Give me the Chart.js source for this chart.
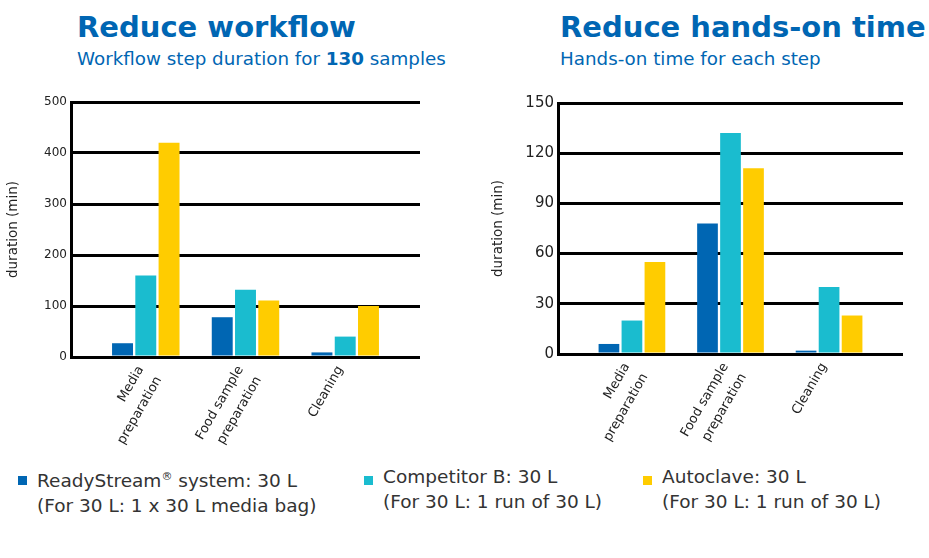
<!DOCTYPE html>
<html>
<head>
<meta charset="utf-8">
<script src="https://cdn.jsdelivr.net/npm/chart.js@4"></script>
<style>
  body { margin: 0; width: 929px; height: 558px; background: #fff; position: relative; overflow: hidden; font-family: "DejaVu Sans", Verdana, sans-serif; }
  .title { position: absolute; color: #0066b3; font-weight: bold; font-size: 29px; white-space: nowrap; }
  .sub { position: absolute; color: #0066b3; font-size: 18.3px; white-space: nowrap; }
  .box { position: absolute; }
  .leg { position: absolute; font-size: 18.5px; color: #333; line-height: 25px; white-space: nowrap; }
  .leg i { position: absolute; left: -19px; width: 9px; height: 9px; }
</style>
</head>
<body>
<div class="title" style="left:77px; top:10px;">Reduce workflow</div>
<div class="sub" style="left:77px; top:48px;">Workflow step duration for <b>130</b> samples</div>
<div class="title" style="left:560px; top:10px;">Reduce hands-on time</div>
<div class="sub" style="left:560px; top:48px;">Hands-on time for each step</div>

<div class="box" style="left:0; top:90px; width:465px; height:360px;"><canvas id="chartLeft"></canvas></div>
<div class="box" style="left:480px; top:90px; width:449px; height:360px;"><canvas id="chartRight"></canvas></div>

<div id="legend"></div>

<script>
let steps = [['Media', 'preparation'], ['Food sample', 'preparation'], ['Cleaning']];
let seriesNames = ['ReadyStream® system: 30 L', 'Competitor B: 30 L', 'Autoclave: 30 L'];
let seriesNotes = ['(For 30 L: 1 x 30 L media bag)', '(For 30 L: 1 run of 30 L)', '(For 30 L: 1 run of 30 L)'];
let colors = ['#0066b3', '#1abccf', '#ffcc00'];

// workflow step duration (min), 130 samples
let workflowReady = [27, 78, 9];
let workflowCompetitor = [160, 132, 40];
let workflowAutoclave = [420, 111, 100];

// hands-on time (min)
let handsReady = [6, 78, 2];
let handsCompetitor = [20, 132, 40];
let handsAutoclave = [55, 111, 23];

let leftTicks = [0, 100, 200, 300, 400, 500];
let rightTicks = [0, 30, 60, 90, 120, 150];

function toPoints(values) {
    return values.map((v, i) => ({ x: i, y: v }));
}

function renderChart(id, series, ticks, tickSize, axisWidth, axisHeight, padRight, titlePad) {
    const ctx = document.getElementById(id);
    new Chart(ctx, {
        type: 'bar',
        data: {
            datasets: series.map((s, k) => ({
                label: seriesNames[k],
                data: toPoints(s),
                backgroundColor: colors[k],
                borderWidth: 0,
                categoryPercentage: 0.7,
                barPercentage: 0.9
            }))
        },
        options: {
            animation: false,
            responsive: true,
            maintainAspectRatio: false,
            layout: { padding: { top: 12, right: padRight, bottom: 0, left: 0 } },
            plugins: { legend: { display: false }, tooltip: { enabled: false } },
            scales: {
                x: {
                    type: 'linear',
                    offset: false,
                    min: -0.75,
                    max: 2.75,
                    grid: { display: false, drawTicks: false },
                    border: { display: false },
                    afterFit: (scale) => { scale.height = axisHeight; },
                    afterBuildTicks: (scale) => {
                        scale.ticks = steps.map((s, i) => ({ value: i }));
                    },
                    ticks: {
                        minRotation: 60,
                        maxRotation: 60,
                        padding: 5,
                        labelOffset: -5,
                        color: '#222',
                        font: { family: 'DejaVu Sans', size: 13, lineHeight: 1.6 },
                        callback: (value) => steps[value]
                    }
                },
                y: {
                    min: ticks[0],
                    max: ticks[ticks.length - 1],
                    afterFit: (scale) => { scale.width = axisWidth; },
                    afterBuildTicks: (scale) => {
                        scale.ticks = ticks.map(v => ({ value: v }));
                    },
                    grid: { color: '#000', lineWidth: 3, drawTicks: false },
                    border: { display: true, color: '#000', width: 3 },
                    title: {
                        display: true,
                        text: 'duration (min)',
                        color: '#222',
                        padding: { top: titlePad, bottom: 4 },
                        font: { family: 'DejaVu Sans', size: 13.5 }
                    },
                    ticks: {
                        color: '#222',
                        padding: 4,
                        font: { family: 'DejaVu Sans', size: tickSize }
                    }
                }
            }
        }
    });
}

renderChart('chartLeft', [workflowReady, workflowCompetitor, workflowAutoclave], leftTicks, 12, 71, 93, 45, 5);
renderChart('chartRight', [handsReady, handsCompetitor, handsAutoclave], rightTicks, 15, 78, 96, 26, 10);

// legend below the charts
let legendX = [37, 383, 662];
let legend = document.getElementById('legend');
seriesNames.forEach((name, k) => {
    let d = document.createElement('div');
    d.className = 'leg';
    d.style.left = legendX[k] + 'px';
    d.style.top = '464px';
    d.innerHTML = '<i style="background:' + colors[k] + '; top:12px"></i>' +
        name.replace('®', '<sup style="font-size:11px">®</sup>') + '<br>' + seriesNotes[k];
    legend.appendChild(d);
});
</script>
</body>
</html>
